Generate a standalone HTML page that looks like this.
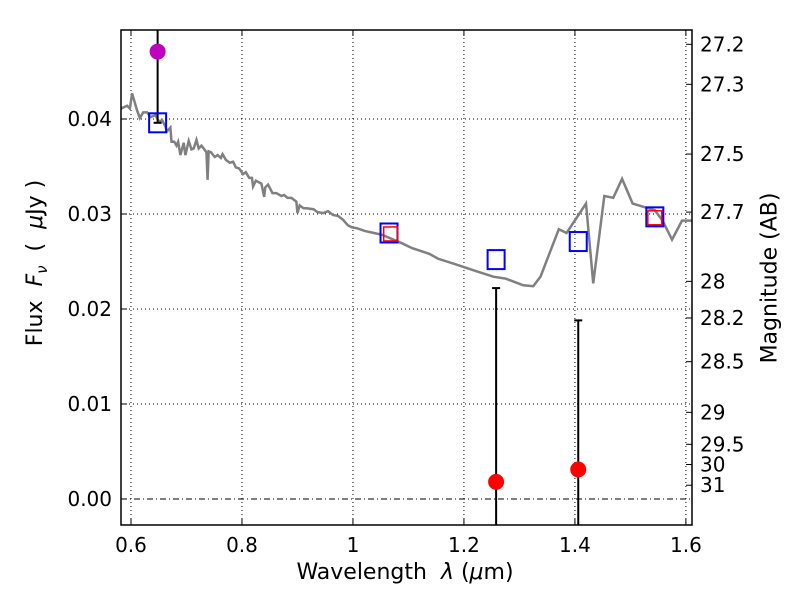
<!DOCTYPE html>
<html><head><meta charset="utf-8"><style>
body{margin:0;background:#fff;font-family:"Liberation Sans","DejaVu Sans",sans-serif}
svg text{font-family:"DejaVu Sans","Liberation Sans",sans-serif}
</style></head><body>
<svg id="chart" width="800" height="600" xmlns="http://www.w3.org/2000/svg">
<rect width="800" height="600" fill="#fff"/>
</svg>
<script>
const specWave=[0.582,0.593,0.598,0.602,0.605,0.611,0.616,0.622,0.629,0.635,0.644,0.651,0.656,0.662,0.665,0.671,0.673,0.678,0.682,0.685,0.689,0.695,0.698,0.704,0.709,0.713,0.718,0.722,0.727,0.731,0.736,0.738,0.740,0.744,0.751,0.756,0.762,0.765,0.771,0.778,0.784,0.789,0.795,0.802,0.807,0.813,0.818,0.820,0.825,0.835,0.840,0.842,0.847,0.855,0.862,0.871,0.876,0.882,0.889,0.898,0.900,0.904,0.911,0.916,0.929,0.936,0.947,0.955,0.964,0.973,0.982,0.991,0.998,1.007,1.022,1.038,1.053,1.069,1.089,1.107,1.138,1.153,1.185,1.216,1.253,1.275,1.307,1.325,1.338,1.371,1.385,1.420,1.433,1.453,1.469,1.485,1.504,1.544,1.558,1.575,1.593,1.613];
const specFlux=[0.0411,0.0414,0.0411,0.0427,0.0421,0.0409,0.0401,0.0407,0.0407,0.0402,0.0404,0.0397,0.0399,0.0392,0.0387,0.0391,0.0376,0.0376,0.0372,0.0376,0.0362,0.0375,0.0362,0.0377,0.0368,0.0369,0.0378,0.0369,0.0372,0.0369,0.0365,0.0336,0.0366,0.0365,0.0360,0.0362,0.0359,0.0363,0.0357,0.0354,0.0355,0.0349,0.0348,0.0342,0.0344,0.0338,0.0338,0.0329,0.0335,0.0332,0.0318,0.0328,0.0331,0.0322,0.0322,0.0319,0.0320,0.0317,0.0317,0.0313,0.0301,0.0309,0.0306,0.0306,0.0305,0.0302,0.0301,0.0303,0.0299,0.0298,0.0294,0.0288,0.0286,0.0285,0.0282,0.0280,0.0278,0.0274,0.0269,0.0264,0.0258,0.0253,0.0247,0.0241,0.0234,0.0232,0.0225,0.0224,0.0234,0.0284,0.0280,0.0311,0.0227,0.0319,0.0317,0.0337,0.0311,0.0304,0.0293,0.0273,0.0293,0.0293];
const modelWave=[0.648,1.065,1.258,1.406,1.544];
const modelFlux=[0.0396,0.0280,0.0252,0.0271,0.0297];
const fitWave=[1.068,1.544];
const fitFlux=[0.0279,0.0296];
const obsWave=[1.258,1.406];
const obsFlux=[0.0018,0.0031];
const obsErrHi=[0.0222,0.0188];
const obsErrLo=[-0.01,-0.01];
const upperWave=[0.648];
const upperFlux=[0.0471];
const upperHi=[0.06];
const upperLo=[0.0396];
const xTicks=[0.6,0.8,1.0,1.2,1.4,1.6];
const xTickLabels=["0.6","0.8","1","1.2","1.4","1.6"];
const yTicks=[0,0.01,0.02,0.03,0.04];
const yTickLabels=["0.00","0.01","0.02","0.03","0.04"];
const magTicks=[27.2,27.3,27.5,27.7,28,28.2,28.5,29,29.5,30,31];
const magLabels=["27.2","27.3","27.5","27.7","28","28.2","28.5","29","29.5","30","31"];

const L=121,R=692,T=30,B=525;
const X0=0.582,X1=1.611,Y0=-0.00274,Y1=0.04937;
const sx=v=>L+(v-X0)/(X1-X0)*(R-L);
const sy=v=>B-(v-Y0)/(Y1-Y0)*(B-T);
const svg=document.getElementById('chart');
const NS='http://www.w3.org/2000/svg';
function mk(tag,attrs,parent){const e=document.createElementNS(NS,tag);for(const k in attrs)e.setAttribute(k,attrs[k]);(parent||svg).appendChild(e);return e;}
const clip=mk('clipPath',{id:'pc'});mk('rect',{x:L,y:T,width:R-L,height:B-T},clip);
const g=mk('g',{'clip-path':'url(#pc)'});

xTicks.forEach(t=>{const l=mk('line',{x1:sx(t),x2:sx(t),y1:T,y2:B,stroke:'#000','stroke-width':1,'stroke-dasharray':'1,3'},g);

});
yTicks.forEach(t=>{const l=mk('line',{x1:L,x2:R,y1:sy(t),y2:sy(t),stroke:'#000','stroke-width':1,'stroke-dasharray':t===0?'6,3,1,3':'1,3'},g);

});

const sp=mk('polyline',{points:specWave.map((w,i)=>sx(w)+','+sy(specFlux[i])).join(' '),fill:'none',stroke:'#808080','stroke-width':2.5},g);



function ebar(w,lo,hi,name){const x=sx(w);const l=mk('line',{x1:x,x2:x,y1:sy(hi),y2:sy(lo),stroke:'#000','stroke-width':2},g);


[lo,hi].forEach(v=>{const c=mk('line',{x1:x-4,x2:x+4,y1:sy(v),y2:sy(v),stroke:'#000','stroke-width':2},g);

});}
upperWave.forEach((w,i)=>ebar(w,upperLo[i],upperHi[i],'upper-errorbar'));
obsWave.forEach((w,i)=>ebar(w,obsErrLo[i],obsErrHi[i],'obs-errorbar'));

modelWave.forEach((w,i)=>{const r=mk('rect',{x:sx(w)-8.5,y:sy(modelFlux[i])-9.5,width:17,height:19,fill:'none',stroke:'#0000ff','stroke-width':2},g);

});
fitWave.forEach((w,i)=>{const r=mk('rect',{x:sx(fitWave[i])-7,y:sy(fitFlux[i])-7,width:14,height:14,fill:'none',stroke:'#ff0000','stroke-width':1.5},g);

});
obsWave.forEach((w,i)=>{const c=mk('circle',{cx:sx(w),cy:sy(obsFlux[i]),r:8,fill:'#ff0000'},g);

});
upperWave.forEach((w,i)=>{const c=mk('circle',{cx:sx(w),cy:sy(upperFlux[i]),r:8,fill:'#bf00bf'},g);

});

const fr=mk('rect',{x:L,y:T,width:R-L,height:B-T,fill:'none',stroke:'#000','stroke-width':1.5});



xTicks.forEach((t,i)=>{const x=sx(t);mk('line',{x1:x,x2:x,y1:B,y2:B-6,stroke:'#000'});mk('line',{x1:x,x2:x,y1:T,y2:T+6,stroke:'#000'});
const tx=mk('text',{x:x,y:B+27,'font-size':20,'text-anchor':'middle'});tx.textContent=xTickLabels[i];

});
yTicks.forEach((t,i)=>{const y=sy(t);mk('line',{x1:L,x2:L+6,y1:y,y2:y,stroke:'#000'});
const tx=mk('text',{x:L-9,y:y+7,'font-size':20,'text-anchor':'end'});tx.textContent=yTickLabels[i];

});
magTicks.forEach((m,i)=>{const y=sy(Math.pow(10,(23.9-m)/2.5));mk('line',{x1:R,x2:R-6,y1:y,y2:y,stroke:'#000'});
const tx=mk('text',{x:R+8,y:y+7,'font-size':20,'text-anchor':'start'});tx.textContent=magLabels[i];

});
</script>
<div style="position:absolute;left:0;top:560px;width:810px;text-align:center;font:22px 'DejaVu Sans','Liberation Sans',sans-serif">Wavelength &nbsp;<i>λ</i> (<i>μ</i>m)</div>
<div style="position:absolute;left:37px;top:263px;transform:translate(-50%,-50%) rotate(-90deg);white-space:nowrap;font:22px 'DejaVu Sans','Liberation Sans',sans-serif">Flux &nbsp;<i>F<sub style="font-size:15px">ν</sub></i> &nbsp;( &nbsp;<i>μ</i>Jy )</div>
<div style="position:absolute;left:770px;top:278px;transform:translate(-50%,-50%) rotate(-90deg);white-space:nowrap;font:22px 'DejaVu Sans','Liberation Sans',sans-serif">Magnitude (AB)</div>
</body></html>
